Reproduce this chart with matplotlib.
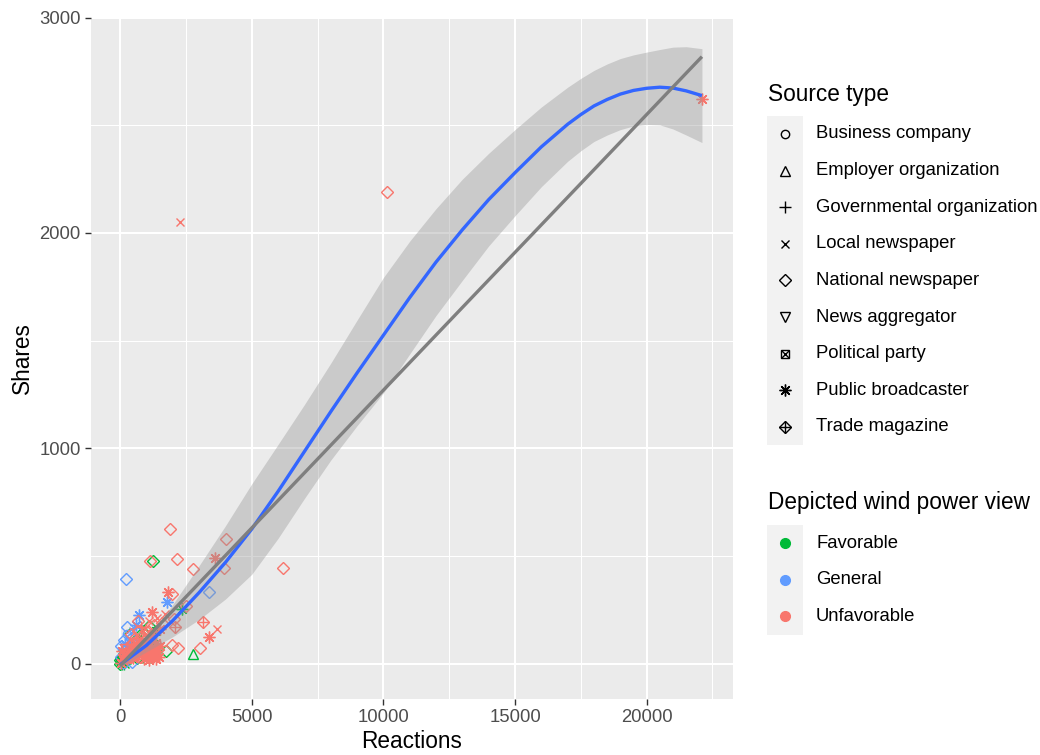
import matplotlib
matplotlib.use("Agg")
import matplotlib.pyplot as plt
from matplotlib.patches import Rectangle
import numpy as np

plt.rcParams['font.family'] = ['Liberation Sans', 'DejaVu Sans']

# source codes: B business, E employer, G governmental, L local paper,
# N national paper, A aggregator, P political party, R public broadcaster, T trade magazine
reactions = [22100, 10130, 2280, 6170, 4010, 1885, 1140, 1265, 2176, 215,
             2783, 3960, 3605, 3378, 1834, 1986, 1796, 2492, 2366, 1227,
             721, 3160, 2087, 2049, 3693, 3378, 3030, 2770, 1986, 2214,
             1758, 278, 367, 1090, 690,
             950, 1020, 1080, 1120, 1180, 1230, 1290, 1350, 1400, 1460,
             1000, 1150, 1250, 1320, 1100, 880, 1500, 1050, 1200, 900, 1380,
             450, 600, 750, 820, 550, 350, 680, 900, 500, 780, 1000, 420,
             380, 620, 700, 850, 560, 300, 950, 1100,
             200, 420, 650, 500, 800,
             250, 330, 480, 720, 600, 50, 100, 150, 80,
             1300, 1400, 1500, 1600, 1700,
             0, 20, 40, 60, 80, 100, 120, 150, 180, 200, 30, 90, 250, 10, 130, 160, 220, 70,
             700, 850, 950, 1050, 1150, 1250, 1300, 600, 800, 1000, 1200, 500, 400, 900, 1350, 750, 650, 300,
             50, 120, 200, 300, 400, 500, 550, 250, 150, 600, 350, 450, 700, 100, 30,
             180, 320, 260, 560, 400]
shares = [2620, 2191, 2052, 445, 578, 626, 476, 476, 487, 394,
          440, 443, 490, 331, 333, 324, 286, 270, 252, 240,
          224, 192, 170, 209, 159, 124, 73, 46, 85, 73,
          57, 170, 139, 175, 200,
          45, 60, 30, 85, 50, 70, 40, 95, 60, 30,
          100, 115, 25, 55, 15, 75, 80, 130, 140, 20, 20,
          60, 40, 90, 130, 120, 30, 150, 110, 95, 30, 150, 140,
          80, 70, 110, 50, 20, 50, 160, 200,
          30, 45, 100, 70, 170,
          20, 60, 25, 55, 90, 5, 15, 40, 60,
          180, 210, 160, 190, 230,
          0, 5, 10, 0, 15, 5, 25, 10, 20, 0, 25, 35, 15, 15, 0, 45, 30, 50,
          60, 80, 40, 100, 65, 90, 120, 110, 120, 20, 30, 80, 50, 140, 150, 160, 25, 60,
          30, 60, 90, 20, 120, 150, 40, 140, 110, 180, 75, 10, 100, 0, 80,
          70, 100, 35, 60, 90]
source = list("RNLNNNNNNN" "NNRNRNRNRR" "RTTNLRNENN" "NNNNN"
              "RRRRRRRRRR" "RRRRRRRRRRR" "NNNNNNNNNNNN" "LLLLLLLL" "BBBGG"
              "RRRRRRRRR" "NLRNL"
              "NBLGNBLNGLNBLNGNBL"
              "RNLGNRLNGLNBRNRLNE"
              "NLRBNLRBNRGNLBN"
              "APAPT")
# F favorable, G general, U unfavorable
view = list("UUUUUUUFUG" "UUUGUUGUFU" "GUUUUUUFUU" "FGFFU"
            + "U" * 60 + "F" * 36 + "G" * 15 + "UGFUU")

source_codes = ['B', 'E', 'G', 'L', 'N', 'A', 'P', 'R', 'T']
source_names = ['Business company', 'Employer organization', 'Governmental organization',
                'Local newspaper', 'National newspaper', 'News aggregator',
                'Political party', 'Public broadcaster', 'Trade magazine']
view_codes = ['F', 'G', 'U']
view_names = ['Favorable', 'General', 'Unfavorable']
view_colors = ['#00BA38', '#619CFF', '#F8766D']

# smooth (gam) curve and its band
smooth_x = [0, 1000, 2000, 3000, 4000, 5000, 6000, 7000, 8000, 9000, 10000, 11000,
            12000, 13000, 14000, 15000, 16000, 17000, 17500, 18000, 18500, 19000,
            19500, 20000, 20500, 21000, 21500, 22100]
smooth_y = [-5, 85, 200, 330, 470, 625, 800, 985, 1170, 1350, 1525, 1700,
            1865, 2015, 2155, 2280, 2400, 2505, 2550, 2590, 2620, 2645,
            2662, 2672, 2677, 2673, 2660, 2638]
smooth_se = [10, 30, 75, 125, 170, 210, 218, 218, 225, 245, 268, 262,
             248, 235, 215, 200, 185, 172, 168, 165, 165, 165,
             165, 168, 175, 190, 205, 218]
lm_intercept = -10
lm_slope = 0.1280

markers = {
    'B': [('o', 6.0)], 'E': [('^', 6.5)], 'G': [('+', 8.5)], 'L': [('x', 6.0)],
    'N': [('D', 5.8)], 'A': [('v', 6.5)], 'P': [('s', 5.5), ('x', 5.5)],
    'R': [((8, 2, 0), 8.5)], 'T': [('D', 5.8), ('+', 8.2)],
}

W, H = 1040, 755
fig = plt.figure(figsize=(W / 100, H / 100), dpi=100)
L, R, T, B = 91, 733, 17, 699
ax = fig.add_axes([L / W, 1 - B / H, (R - L) / W, (B - T) / H])
ax.set_facecolor('#EBEBEB')
for s in ax.spines.values():
    s.set_visible(False)

rx = np.array(reactions)
sy = np.array(shares)
src = np.array(source)
vw = np.array(view)

for vc, col in zip(view_codes, view_colors):
    for sc in source_codes:
        m = (src == sc) & (vw == vc)
        if not m.any():
            continue
        for mk, ms in markers[sc]:
            ax.plot(rx[m], sy[m], linestyle='none', marker=mk, ms=ms, mfc='none',
                    mec=col, mew=1.0, zorder=2)

sx = np.array(smooth_x)
syf = np.array(smooth_y)
se = np.array(smooth_se)
ax.fill_between(sx, syf - se, syf + se, color='#999999', alpha=0.4, lw=0, zorder=3)
ax.plot(sx, syf, color='#3366FF', lw=2.4, zorder=4, solid_capstyle='butt')
lx = np.array([rx.min(), rx.max()])
ax.plot(lx, lm_intercept + lm_slope * lx, color='#7F7F7F', lw=2.4, zorder=5,
        solid_capstyle='butt')

ax.set_xlim(-1105, 23280)
ax.set_ylim(-164, 3003)
ax.set_xticks([0, 5000, 10000, 15000, 20000])
ax.set_yticks([0, 1000, 2000, 3000])
ax.set_xticks([2500, 7500, 12500, 17500, 22500], minor=True)
ax.set_yticks([500, 1500, 2500], minor=True)
ax.grid(which='major', color='white', lw=1.5, zorder=0)
ax.grid(which='minor', color='white', lw=0.75, zorder=0)
ax.set_axisbelow(True)
ax.tick_params(which='major', length=4, width=1.0, color='#333333',
               labelcolor='#4D4D4D', labelsize=13.3, pad=3.5)
ax.tick_params(which='minor', length=0)

lax = fig.add_axes([0, 0, 1, 1])
lax.set_xlim(0, W)
lax.set_ylim(H, 0)
lax.axis('off')

lax.text(412, 741, 'Reactions', ha='center', va='center', fontsize=16.3)
lax.text(22, 358, 'Shares', ha='center', va='center', rotation=90, fontsize=16.3)

# legend: source type
lax.text(768, 94, 'Source type', ha='left', va='center', fontsize=16.3)
row0, step = 134, 36.6
lax.add_patch(Rectangle((767, row0 - step / 2), 36, step * len(source_names),
                        facecolor='#F2F2F2', edgecolor='none'))
for i, (sc, name) in enumerate(zip(source_codes, source_names)):
    yy = row0 + i * step
    for mk, ms in markers[sc]:
        lax.plot([785], [yy], linestyle='none', marker=mk, ms=ms, mfc='none',
                 mec='black', mew=1.0)
    lax.text(816, yy, name, ha='left', va='center', fontsize=13.3)

# legend: depicted view
lax.text(768, 502, 'Depicted wind power view', ha='left', va='center', fontsize=16.3)
row1 = 543
lax.add_patch(Rectangle((767, row1 - step / 2), 36, step * len(view_names),
                        facecolor='#F2F2F2', edgecolor='none'))
for i, (name, col) in enumerate(zip(view_names, view_colors)):
    yy = row1 + i * step
    lax.plot([785], [yy], linestyle='none', marker='o', ms=7, mfc=col, mec=col)
    lax.text(816, yy, name, ha='left', va='center', fontsize=13.3)

fig.savefig('out.png', dpi=100)
